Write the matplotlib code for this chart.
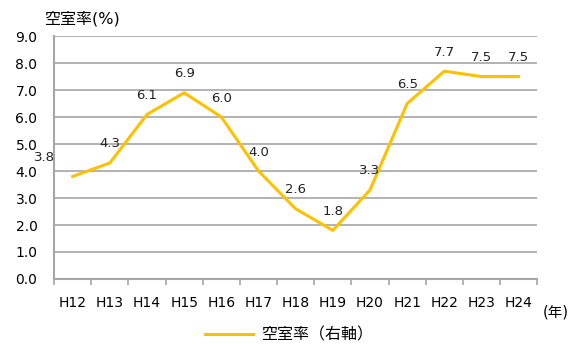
import matplotlib.pyplot as plt
import numpy as np

plt.rcParams['font.family'] = ['DejaVu Sans', 'Noto Sans CJK JP']

years = ['H12', 'H13', 'H14', 'H15', 'H16', 'H17', 'H18', 'H19', 'H20', 'H21', 'H22', 'H23', 'H24']
vacancy = [3.8, 4.3, 6.1, 6.9, 6.0, 4.0, 2.6, 1.8, 3.3, 6.5, 7.7, 7.5, 7.5]

line_color = '#FFC000'
grid_color = '#A6A6A6'

fig = plt.figure(figsize=(5.82, 3.47), dpi=100)
ax = fig.add_axes([0.093, 0.196, 0.830, 0.700])

x = np.arange(len(years))
ax.plot(x, vacancy, color=line_color, linewidth=2.2, label='空室率（右軸）')

# value labels above each point; the first one sits up and to the left
for i, v in enumerate(vacancy):
    off = (-20, 9) if i == 0 else (0, 9)
    ax.annotate(f'{v:.1f}', (i, v), xytext=off, textcoords='offset points',
                ha='center', va='bottom', fontsize=9.5, color='#222222')

ax.set_xlim(-0.5, len(years) - 0.5)
ax.set_ylim(0, 9)
ax.set_yticks(np.arange(0, 9.1, 1.0))
ax.set_yticklabels([f'{t:.1f}' for t in np.arange(0, 9.1, 1.0)], fontsize=10)
ax.yaxis.grid(True, color=grid_color, linewidth=1.2)
ax.set_axisbelow(True)
ax.tick_params(axis='y', length=0, pad=12)

# category labels between boundary ticks
ax.set_xticks(np.arange(-0.5, len(years), 1.0))
ax.set_xticklabels([])
ax.set_xticks(x, minor=True)
ax.set_xticklabels(years, minor=True, fontsize=10)
ax.tick_params(axis='x', which='major', length=4, color=grid_color, width=1.2)
ax.tick_params(axis='x', which='minor', length=0, pad=12)

for s in ['top', 'right']:
    ax.spines[s].set_visible(False)
for s in ['left', 'bottom']:
    ax.spines[s].set_color(grid_color)
    ax.spines[s].set_linewidth(1.5)

fig.text(0.076, 0.945, '空室率(%)', fontsize=11.5, ha='left', va='center')
fig.text(0.932, 0.10, '(年)', fontsize=10.5, ha='left', va='center')

fig.legend(loc='center', bbox_to_anchor=(0.497, 0.035), frameon=False,
           fontsize=11.5, handlelength=3.0, handletextpad=0.5,
           borderpad=0.1)

fig.savefig('out.png', dpi=100)
